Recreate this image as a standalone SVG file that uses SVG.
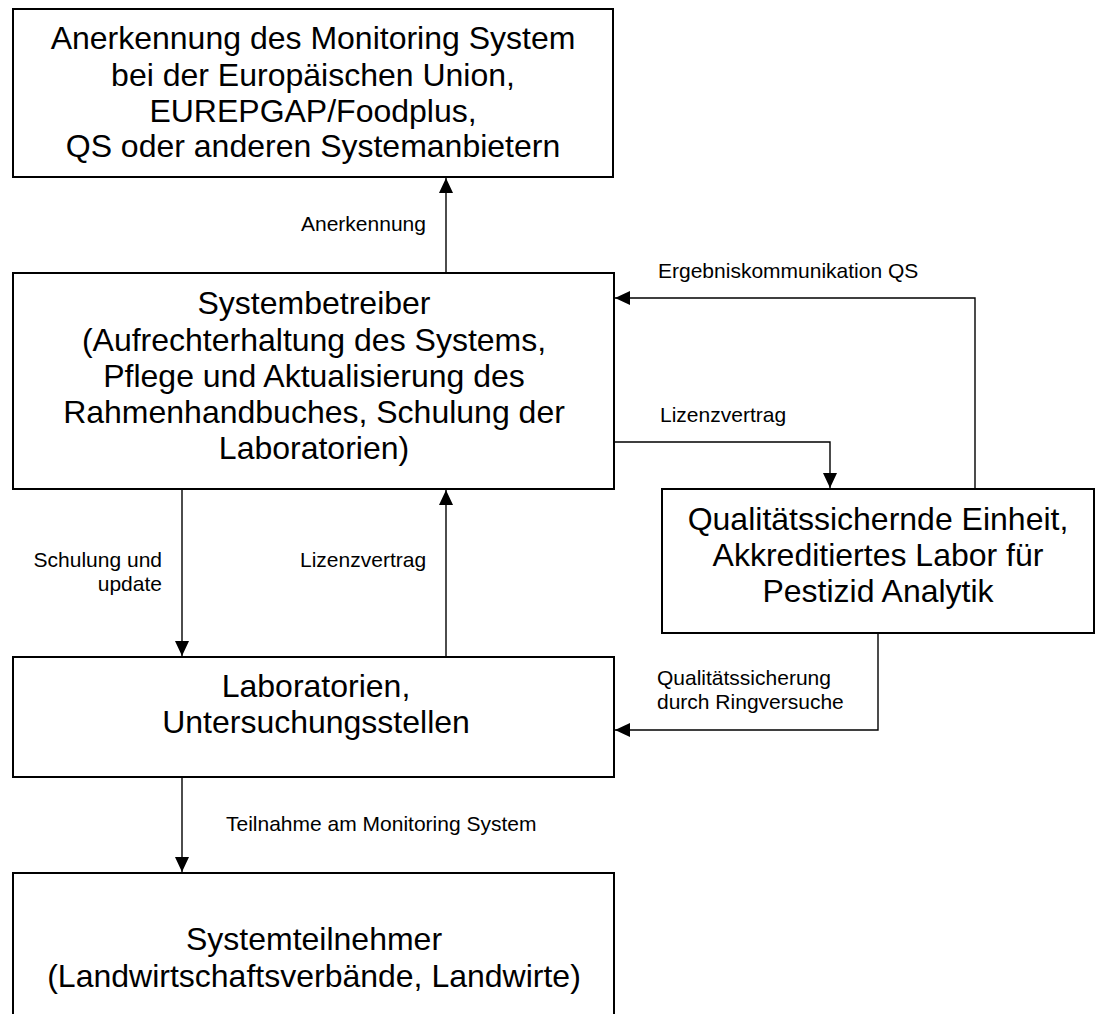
<svg xmlns="http://www.w3.org/2000/svg" width="1096" height="1014" viewBox="0 0 1096 1014">
<style>
.box{fill:#fff;stroke:#000;stroke-width:2}
.bt{font-family:"Liberation Sans",Arial,sans-serif;font-size:32px;fill:#000;text-anchor:middle}
.lb{font-family:"Liberation Sans",Arial,sans-serif;font-size:21px;fill:#000}
.cn{fill:none;stroke:#000;stroke-width:1.4}
</style>
<defs>
<marker id="ah" viewBox="0 0 15 14" refX="15" refY="7" markerWidth="15" markerHeight="14" markerUnits="userSpaceOnUse" orient="auto">
<path d="M0,0 L15,7 L0,14 Z" fill="#000"/>
</marker>
</defs>
<rect width="1096" height="1014" fill="#fff"/>
<g id="connectors">
<path class="cn" d="M446,273 V178" marker-end="url(#ah)"/>
<path class="cn" d="M975,489 V298 H615" marker-end="url(#ah)"/>
<path class="cn" d="M614,442 H830 V488" marker-end="url(#ah)"/>
<path class="cn" d="M182,489 V656" marker-end="url(#ah)"/>
<path class="cn" d="M446,657 V490" marker-end="url(#ah)"/>
<path class="cn" d="M878,633 V730 H615" marker-end="url(#ah)"/>
<path class="cn" d="M182,777 V872" marker-end="url(#ah)"/>
<text class="lb" x="301" y="231">Anerkennung</text>
<text class="lb" x="658" y="278">Ergebniskommunikation QS</text>
<text class="lb" x="660" y="422">Lizenzvertrag</text>
<text class="lb" x="162" y="567" text-anchor="end">Schulung und</text>
<text class="lb" x="162" y="591" text-anchor="end">update</text>
<text class="lb" x="300" y="567">Lizenzvertrag</text>
<text class="lb" x="657" y="685">Qualitätssicherung</text>
<text class="lb" x="657" y="709">durch Ringversuche</text>
<text class="lb" x="226" y="831">Teilnahme am Monitoring System</text>
</g>
<g id="anerkennung">
<rect class="box" x="13" y="9" width="600" height="168"/>
<text class="bt" x="313" y="49">Anerkennung des Monitoring System</text>
<text class="bt" x="313" y="86">bei der Europäischen Union,</text>
<text class="bt" x="313" y="122">EUREPGAP/Foodplus,</text>
<text class="bt" x="313" y="157">QS oder anderen Systemanbietern</text>
</g>
<g id="systembetreiber">
<rect class="box" x="13" y="273" width="601" height="216"/>
<text class="bt" x="314" y="314">Systembetreiber</text>
<text class="bt" x="314" y="351">(Aufrechterhaltung des Systems,</text>
<text class="bt" x="314" y="387">Pflege und Aktualisierung des</text>
<text class="bt" x="314" y="423">Rahmenhandbuches, Schulung der</text>
<text class="bt" x="314" y="459">Laboratorien)</text>
</g>
<g id="qs-einheit">
<rect class="box" x="662" y="489" width="432" height="144"/>
<text class="bt" x="878" y="530">Qualitätssichernde Einheit,</text>
<text class="bt" x="878" y="566">Akkreditiertes Labor für</text>
<text class="bt" x="878" y="602">Pestizid Analytik</text>
</g>
<g id="laboratorien">
<rect class="box" x="13" y="657" width="601" height="120"/>
<text class="bt" x="316" y="697">Laboratorien,</text>
<text class="bt" x="316" y="733">Untersuchungsstellen</text>
</g>
<g id="systemteilnehmer">
<rect class="box" x="13" y="873" width="601" height="150"/>
<text class="bt" x="314" y="950">Systemteilnehmer</text>
<text class="bt" x="314" y="987">(Landwirtschaftsverbände, Landwirte)</text>
</g>
</svg>
